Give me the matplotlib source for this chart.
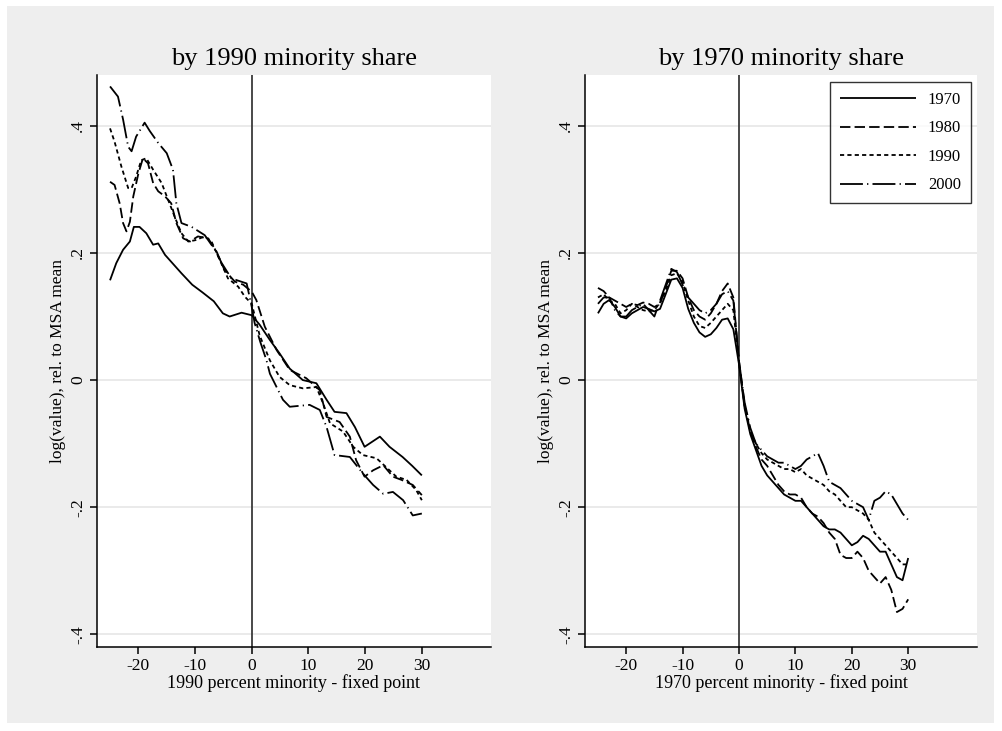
import numpy as np
import matplotlib
matplotlib.use("Agg")
import matplotlib.pyplot as plt
from matplotlib.patches import Rectangle

plt.rcParams['font.family'] = ['Liberation Serif', 'DejaVu Serif']
plt.rcParams['lines.scale_dashes'] = False

years = ["1970", "1980", "1990", "2000"]

# left panel: by 1990 minority share
l70_x = [-25, -23.9, -22.7, -21.5, -20.8, -19.8, -18.6, -17.4, -16.5, -15.3, -14.2, -12.4, -10.5, -8.7,
         -6.7, -5.1, -3.9, -1.8, 0, 1.4, 3.2, 4.9, 6.7, 9, 11.4, 13.2, 14.6, 16.7, 18.2, 19.9, 22.6,
         24.3, 26.6, 28.3, 30]
l70_y = [.157, .184, .205, .218, .241, .241, .231, .213, .215, .197, .186, .168, .15, .138,
         .124, .105, .1, .106, .102, .087, .063, .042, .018, .0, -.005, -.031, -.05, -.052, -.074, -.105, -.089,
         -.105, -.121, -.135, -.15]
l80_x = [-25, -24.2, -23.3, -22.7, -22.1, -21.5, -20.9, -20, -19.2, -18.3, -17.4, -16.5, -15.3, -14.2,
         -13.3, -12.1, -10.9, -9.5, -7.7, -6.2, -4.8, -3, -1.5, 0, 0.8, 2.3, 4.4, 6.7, 9.6, 12, 13.2,
         15.5, 17.3, 18.4, 19.9, 21.4, 23.2, 24.9, 26.4, 28.4, 30]
l80_y = [.312, .307, .278, .247, .234, .249, .289, .325, .349, .341, .31, .297, .289, .278,
         .247, .223, .218, .226, .223, .202, .173, .155, .15, .139, .126, .084, .047, .016, .003, -.016, -.058,
         -.066, -.089, -.126, -.152, -.142, -.134, -.152, -.157, -.165, -.181]
l90_x = [-25, -24.2, -23, -21.8, -21.2, -20.4, -19.5, -18.6, -17.4, -15.9, -13.6, -12.4, -11.2, -10,
         -8.3, -7.1, -5.9, -4.2, -2.4, -1.2, 0, 1.4, 3.2, 4.9, 6.7, 9, 11.4, 12.6, 13.8, 16.1, 17.9,
         19.6, 22, 23.7, 25.5, 27.3, 29, 30]
l90_y = [.396, .375, .336, .302, .302, .32, .346, .349, .331, .31, .257, .231, .218, .22,
         .226, .218, .194, .16, .147, .131, .12, .07, .031, .005, -.008, -.013, -.011, -.037, -.068, -.081, -.105,
         -.118, -.123, -.137, -.152, -.157, -.173, -.189]
l00_x = [-25, -23.6, -22.7, -21.8, -21.2, -20.4, -18.9, -18, -16.5, -15, -13.9, -13.3, -12.4, -10.6,
         -8.3, -6.5, -5.3, -3.6, -0.9, 0, 0.5, 1.5, 2.6, 3.2, 5.5, 6.7, 10.2, 12, 13.2, 14.6, 17.3,
         19.6, 21.4, 23.2, 24.9, 26.7, 28.4, 30]
l00_y = [.462, .446, .41, .367, .36, .383, .405, .392, .373, .357, .331, .278, .247, .241,
         .228, .205, .184, .16, .152, .115, .09, .06, .031, .01, -.031, -.042, -.039, -.047, -.074, -.118, -.121,
         -.147, -.165, -.179, -.176, -.189, -.213, -.21]

# right panel: by 1970 minority share
r_x = list(range(-25, 31))
r70_y = [.105, .12, .126, .115, .10, .097, .105, .11, .115, .112, .108, .112, .135, .158, .16, .145,
         .112, .09, .075, .068, .072, .082, .095, .097, .08, .025,
         -.045, -.085, -.11, -.135, -.15, -.16, -.17, -.18, -.185, -.19, -.19, -.2, -.21, -.22, -.23,
         -.235, -.235, -.24, -.25, -.26, -.255, -.245, -.25, -.26, -.27, -.27, -.29, -.31, -.315, -.28]
r80_y = [.145, .14, .13, .125, .12, .115, .12, .118, .122, .12, .115, .12, .145, .172, .172, .16,
         .13, .11, .1, .095, .105, .12, .14, .152, .13, .03,
         -.04, -.08, -.105, -.125, -.135, -.15, -.165, -.175, -.18, -.18, -.185, -.2, -.21, -.215, -.225,
         -.24, -.25, -.275, -.28, -.28, -.27, -.28, -.3, -.31, -.32, -.31, -.33, -.365, -.36, -.345]
r90_y = [.13, .135, .125, .12, .105, .11, .12, .115, .11, .108, .11, .122, .14, .165, .168, .155,
         .125, .1, .085, .082, .09, .1, .11, .12, .11, .028,
         -.04, -.08, -.1, -.115, -.125, -.13, -.135, -.14, -.14, -.145, -.14, -.15, -.155, -.16, -.165,
         -.175, -.18, -.19, -.2, -.2, -.205, -.21, -.22, -.24, -.25, -.26, -.27, -.28, -.29, -.29]
r00_y = [.12, .13, .13, .11, .10, .10, .11, .115, .12, .11, .10, .125, .15, .175, .17, .15,
         .13, .12, .11, .105, .11, .12, .135, .14, .125, .03,
         -.035, -.075, -.1, -.11, -.12, -.125, -.13, -.13, -.135, -.14, -.135, -.125, -.12, -.115, -.135,
         -.16, -.165, -.17, -.18, -.19, -.195, -.2, -.22, -.19, -.185, -.175, -.18, -.195, -.21, -.22]

xticks = [-20, -10, 0, 10, 20, 30]
yticks = [-.4, -.2, 0, .2, .4]
ytick_labels = ["-.4", "-.2", "0", ".2", ".4"]

dash_styles = [(0, ()), (0, (7.5, 3)), (0, (3, 2.3)), (0, (16.5, 3, 0.9, 3))]

fig = plt.figure(figsize=(10.03, 7.31), dpi=100, facecolor='white')
fig.patches.append(Rectangle((7 / 1003, 1 - 723 / 731), 987 / 1003, 717 / 731,
                             transform=fig.transFigure, facecolor='#eeeeee',
                             edgecolor='none', zorder=-10))

ax1 = fig.add_axes([97 / 1003, 1 - 647 / 731, 394 / 1003, 572 / 731])
ax2 = fig.add_axes([585 / 1003, 1 - 647 / 731, 392 / 1003, 572 / 731])

left = [(l70_x, l70_y), (l80_x, l80_y), (l90_x, l90_y), (l00_x, l00_y)]
right = [(r_x, r70_y), (r_x, r80_y), (r_x, r90_y), (r_x, r00_y)]

for ax, series, yr in [(ax1, left, "1990"), (ax2, right, "1970")]:
    ax.set_facecolor('white')
    for (xs, ys), ls, lab in zip(series, dash_styles, years):
        ax.plot(xs, ys, color='black', lw=1.3, linestyle=ls, label=lab)
    ax.axvline(0, color='#3a3a3a', lw=1.3, zorder=1)
    ax.set_xlim(-27.3, 42.2)
    ax.set_ylim(-0.42, 0.48)
    ax.set_xticks(xticks)
    ax.set_xticklabels([str(t) for t in xticks], fontsize=12.5)
    ax.set_yticks(yticks)
    ax.set_yticklabels(ytick_labels, fontsize=12.5, rotation=90, va='center')
    ax.grid(axis='y', color='#e6e6e6', lw=1.2)
    ax.set_axisbelow(True)
    for s in ['top', 'right']:
        ax.spines[s].set_visible(False)
    ax.spines['left'].set_linewidth(1.1)
    ax.spines['bottom'].set_linewidth(1.1)
    ax.tick_params(direction='out', length=5, width=1.1, pad=3)
    ax.set_title("by %s minority share" % yr, fontsize=19, pad=7)
    ax.set_xlabel("%s percent minority - fixed point" % yr, fontsize=13, labelpad=0)
    ax.set_ylabel("log(value), rel. to MSA mean", fontsize=12.5, labelpad=3)

leg = ax2.legend(loc='upper right', bbox_to_anchor=(0.985, 0.988), borderaxespad=0,
                 fontsize=12, handlelength=4.6, frameon=True, fancybox=False,
                 borderpad=0.6, labelspacing=0.75, handletextpad=0.7)
leg.get_frame().set_edgecolor('black')
leg.get_frame().set_linewidth(1.0)

fig.savefig("out.png", dpi=100, facecolor='white')
